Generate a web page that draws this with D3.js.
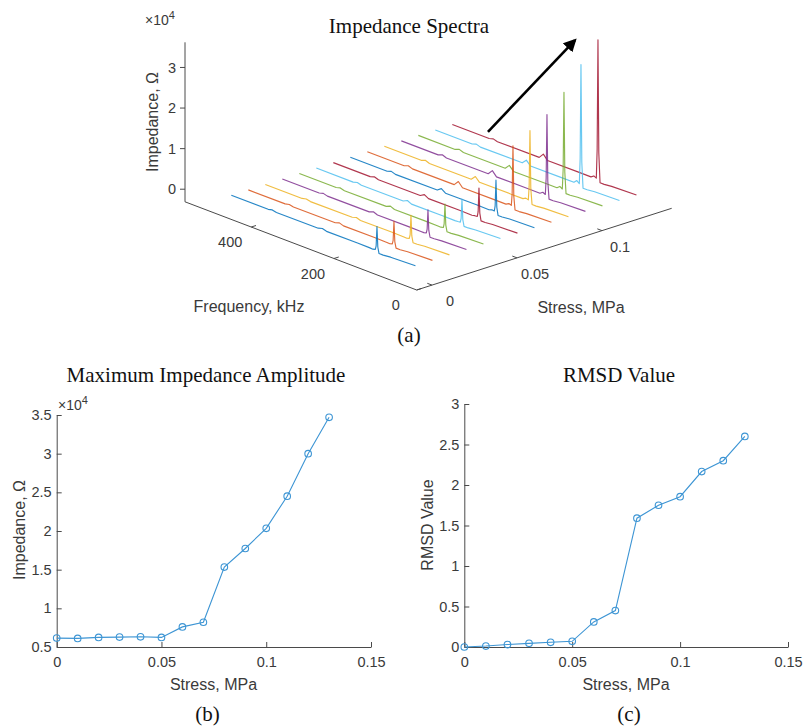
<!DOCTYPE html>
<html>
<head>
<meta charset="utf-8">
<script src="https://cdn.jsdelivr.net/npm/d3@7"></script>
<style>
  body { margin: 0; background: #fff; }
  svg { display: block; }
  .tick text, .lbl { font-family: "Liberation Sans", Arial, sans-serif; fill: #3a3a3a; }
  .ttl { font-family: "Liberation Serif", "Times New Roman", serif; fill: #111; }
</style>
</head>
<body>
<svg id="fig" width="803" height="727"></svg>
<script>
// ---- data -------------------------------------------------------------
// applied stress (MPa) for each measured spectrum
const stress = [0, 0.01, 0.02, 0.03, 0.04, 0.05, 0.06, 0.07, 0.08, 0.09, 0.10, 0.11, 0.12, 0.13];
// maximum impedance amplitude of each spectrum (Ω)
const maxImpedance = [6150, 6110, 6240, 6280, 6320, 6240, 7600, 8200, 15340, 17740, 20350, 24500, 30000, 34700];
// RMSD index relative to the unstressed spectrum
const rmsd = [0, 0.012, 0.03, 0.045, 0.058, 0.07, 0.31, 0.45, 1.59, 1.75, 1.856, 2.166, 2.30, 2.60];

// frequencies (kHz) at which each spectrum is sampled; the resonance peak
// (at peakFreq, height from maxImpedance) is inserted between 135 and 131 kHz
const specFreq = [485, 396, 386, 376, 275, 265, 255, 180, 150, 143, 137, 135, 131, 128, 118, 100, 40];
const peakFreq = 133;
// impedance (Ω) at specFreq, one row per stress level
const spectra = [
  [200, 200, 450, 200, 250, 550, 250, 300, 250, 200, 400, 1350, 1200, -300, -300, -100, 100],
  [200, 200, 450, 200, 250, 600, 250, 300, 250, 200, 400, 1350, 1200, -300, -300, -100, 100],
  [200, 200, 450, 200, 250, 600, 250, 300, 250, 200, 400, 1400, 1250, -300, -300, -100, 100],
  [200, 200, 500, 200, 250, 650, 250, 300, 250, 250, 400, 1400, 1250, -300, -300, -100, 100],
  [200, 200, 500, 200, 250, 700, 250, 300, 250, 250, 400, 1400, 1250, -300, -300, -100, 100],
  [200, 200, 500, 200, 250, 750, 250, 300, 250, 300, 400, 1400, 1250, -300, -300, -100, 100],
  [200, 200, 550, 200, 250, 850, 250, 300, 250, 400, 450, 1700, 1500, -300, -300, -100, 100],
  [200, 200, 550, 200, 250, 1000, 250, 300, 250, 500, 450, 1800, 1600, -300, -300, -100, 100],
  [200, 200, 600, 200, 250, 1400, 250, 300, 300, 700, 500, 3400, 3000, -300, -300, -100, 100],
  [200, 200, 600, 200, 250, 1300, 250, 300, 300, 700, 500, 3900, 3500, -300, -300, -100, 100],
  [200, 200, 600, 200, 250, 1400, 250, 300, 300, 800, 500, 4500, 4000, -300, -300, -100, 100],
  [200, 200, 600, 200, 250, 1350, 250, 300, 300, 900, 500, 5400, 4900, -300, -300, -100, 100],
  [200, 200, 550, 200, 250, 1300, 250, 300, 300, 1000, 500, 6600, 6000, -300, -300, -100, 100],
  [200, 200, 500, 200, 250, 1450, 250, 300, 300, 800, 500, 7600, 7000, -300, -300, -100, 100]
];

// axis ticks
const freqTicks = [0, 200, 400];
const stressTicks3d = [0, 0.05, 0.1];
const impTicks3d = [0, 10000, 20000, 30000];
const stressTicks = [0, 0.05, 0.1, 0.15];
const impTicks = [5000, 10000, 15000, 20000, 25000, 30000, 35000];
const rmsdTicks = [0, 0.5, 1, 1.5, 2, 2.5, 3];

// MATLAB default line colour order
const colorOrder = ["#0072BD", "#D95319", "#EDB120", "#7E2F8E", "#77AC30", "#4DBEEE", "#A2142F"];

const svg = d3.select("#fig");
const axisColor = "#4a4a4a";
const tickFont = 14.5, labelFont = 16;
const fmt = d => (Math.round(d * 1000) / 1000).toString();

// ---- (a) 3-D impedance spectra -----------------------------------------
const freqLim = [0, 560], stressLim = [-0.009, 0.141], impLim = [-3100, 36200];
const origin = { x: 416.7, y: 290 };
// oblique projection: each data axis contributes a screen offset
const fX = d3.scaleLinear().domain(freqLim).range([0, -231.7]);
const fY = d3.scaleLinear().domain(freqLim).range([0, -88.2]);
const sX = d3.scaleLinear().domain(stressLim).range([0, 255]);
const sY = d3.scaleLinear().domain(stressLim).range([0, -81.7]);
const zY = d3.scaleLinear().domain(impLim).range([0, -159.5]);
const proj = (f, s, z) => [origin.x + fX(f) + sX(s), origin.y + fY(f) + sY(s) + zY(z)];

const g3 = svg.append("g");
const seg = (p, q) => g3.append("line")
  .attr("x1", p[0]).attr("y1", p[1]).attr("x2", q[0]).attr("y2", q[1])
  .attr("stroke", axisColor).attr("stroke-width", 1);

// box edges
const [f0, f1] = freqLim, [s0, s1] = stressLim, [z0, z1] = impLim;
seg(proj(f0, s0, z0), proj(f1, s0, z0));
seg(proj(f0, s0, z0), proj(f0, s1, z0));
seg(proj(f1, s0, z0), proj(f1, s0, z1));

// frequency ticks
freqTicks.forEach(f => {
  const p = proj(f, s0, z0);
  seg(p, [p[0] + 4.8, p[1] - 1.5]);
  g3.append("text").attr("class", "lbl").attr("x", p[0] - 21).attr("y", p[1] + 15)
    .attr("text-anchor", "middle").attr("dy", "0.35em").attr("font-size", tickFont).text(f);
});
// stress ticks
stressTicks3d.forEach(s => {
  const p = proj(f0, s, z0);
  seg(p, [p[0] - 4.7, p[1] - 1.8]);
  g3.append("text").attr("class", "lbl").attr("x", p[0] + 18).attr("y", p[1] + 16)
    .attr("text-anchor", "middle").attr("dy", "0.35em").attr("font-size", tickFont).text(fmt(s));
});
// impedance ticks
impTicks3d.forEach(z => {
  const p = proj(f1, s0, z);
  seg(p, [p[0] - 5, p[1]]);
  g3.append("text").attr("class", "lbl").attr("x", p[0] - 9).attr("y", p[1])
    .attr("text-anchor", "end").attr("dy", "0.35em").attr("font-size", tickFont).text(z / 10000);
});
// exponent marker
const expA = g3.append("text").attr("class", "lbl").attr("x", 145).attr("y", 25).attr("font-size", 14);
expA.append("tspan").text("×10");
expA.append("tspan").attr("dy", -6).attr("font-size", 11).text("4");

// axis labels
g3.append("text").attr("class", "lbl").attr("x", 249).attr("y", 312).attr("text-anchor", "middle")
  .attr("font-size", labelFont).text("Frequency, kHz");
g3.append("text").attr("class", "lbl").attr("x", 581).attr("y", 313).attr("text-anchor", "middle")
  .attr("font-size", labelFont).text("Stress, MPa");
g3.append("text").attr("class", "lbl").attr("transform", "translate(152.5,122) rotate(-90)")
  .attr("text-anchor", "middle").attr("dy", "0.35em").attr("font-size", labelFont).text("Impedance, Ω");

// spectra, drawn back to front
const specLine = d3.line().x(d => d[0]).y(d => d[1]);
const spectrumPoints = i => {
  const pts = specFreq.map((f, k) => [f, spectra[i][k]]);
  pts.push([peakFreq, maxImpedance[i]]);
  pts.sort((a, b) => b[0] - a[0]);
  return pts.map(([f, z]) => proj(f, stress[i], z));
};
d3.range(stress.length).reverse().forEach(i => {
  g3.append("path").attr("d", specLine(spectrumPoints(i)))
    .attr("fill", "none").attr("stroke", colorOrder[i % colorOrder.length])
    .attr("stroke-opacity", 0.85)
    .attr("stroke-width", 1.15).attr("stroke-linejoin", "round");
});

// arrow showing the direction of increasing stress
const arrowFrom = proj(440, 0.14, -1200), arrowTo = proj(230, 0.14, 29500);
svg.append("defs").append("marker").attr("id", "head").attr("viewBox", "0 0 10 10")
  .attr("refX", 8).attr("refY", 5).attr("markerWidth", 5).attr("markerHeight", 5)
  .attr("orient", "auto").append("path").attr("d", "M0,0 L10,5 L0,10 z").attr("fill", "#000");
g3.append("line").attr("x1", arrowFrom[0]).attr("y1", arrowFrom[1])
  .attr("x2", arrowTo[0]).attr("y2", arrowTo[1])
  .attr("stroke", "#000").attr("stroke-width", 2.6).attr("marker-end", "url(#head)");

g3.append("text").attr("class", "ttl").attr("x", 409).attr("y", 33).attr("text-anchor", "middle")
  .attr("font-size", 21).text("Impedance Spectra");
g3.append("text").attr("class", "ttl").attr("x", 409).attr("y", 342).attr("text-anchor", "middle")
  .attr("font-size", 21).text("(a)");

// ---- 2-D panels ---------------------------------------------------------
function panel(opts) {
  const g = svg.append("g");
  const x = d3.scaleLinear().domain([0, 0.15]).range(opts.xRange);
  const y = d3.scaleLinear().domain(opts.yDomain).range(opts.yRange);

  const xa = g.append("g").attr("transform", `translate(0,${opts.yRange[0]})`)
    .call(d3.axisBottom(x).tickValues(stressTicks).tickFormat(fmt)
      .tickSizeInner(-5).tickSizeOuter(0).tickPadding(10));
  const ya = g.append("g").attr("transform", `translate(${opts.xRange[0]},0)`)
    .call(d3.axisLeft(y).tickValues(opts.yTicks).tickFormat(opts.yFormat)
      .tickSizeInner(-5).tickSizeOuter(0).tickPadding(5));
  [xa, ya].forEach(a => {
    a.selectAll("path, line").attr("stroke", axisColor);
    a.selectAll("text").attr("font-size", tickFont).attr("font-family", "Liberation Sans, Arial, sans-serif").attr("fill", "#3a3a3a");
  });

  const line = d3.line().x((d, i) => x(stress[i])).y(d => y(d));
  g.append("path").datum(opts.values).attr("d", line)
    .attr("fill", "none").attr("stroke", "#3d95d4").attr("stroke-width", 1.1);
  g.selectAll("circle.m").data(opts.values).join("circle").attr("class", "m")
    .attr("cx", (d, i) => x(stress[i])).attr("cy", d => y(d)).attr("r", 3.3)
    .attr("fill", "none").attr("stroke", "#3d95d4").attr("stroke-width", 1.1);

  g.append("text").attr("class", "ttl").attr("x", opts.titleX).attr("y", 382)
    .attr("text-anchor", "middle").attr("font-size", 21).text(opts.title);
  g.append("text").attr("class", "lbl").attr("x", opts.xLabelX).attr("y", 690)
    .attr("text-anchor", "middle").attr("font-size", labelFont).text("Stress, MPa");
  g.append("text").attr("class", "lbl").attr("transform", `translate(${opts.yLabelX},${opts.yLabelY}) rotate(-90)`)
    .attr("text-anchor", "middle").attr("dy", "0.35em").attr("font-size", labelFont).text(opts.yLabel);
  g.append("text").attr("class", "ttl").attr("x", opts.tagX).attr("y", 721)
    .attr("text-anchor", "middle").attr("font-size", 21).text(opts.tag);
  return g;
}

const gb = panel({
  xRange: [56.7, 371], yDomain: [5000, 35000], yRange: [647, 415], yTicks: impTicks,
  yFormat: d => fmt(d / 10000), values: maxImpedance,
  title: "Maximum Impedance Amplitude", titleX: 206, xLabelX: 213.5,
  yLabel: "Impedance, Ω", yLabelX: 19, yLabelY: 530, tag: "(b)", tagX: 207.5
});
const expB = gb.append("text").attr("class", "lbl").attr("x", 58).attr("y", 410).attr("font-size", 14);
expB.append("tspan").text("×10");
expB.append("tspan").attr("dy", -6).attr("font-size", 11).text("4");

panel({
  xRange: [464.3, 788], yDomain: [0, 3], yRange: [647, 404], yTicks: rmsdTicks,
  yFormat: fmt, values: rmsd,
  title: "RMSD Value", titleX: 619, xLabelX: 626,
  yLabel: "RMSD Value", yLabelX: 427, yLabelY: 525, tag: "(c)", tagX: 629
});
</script>
</body>
</html>
